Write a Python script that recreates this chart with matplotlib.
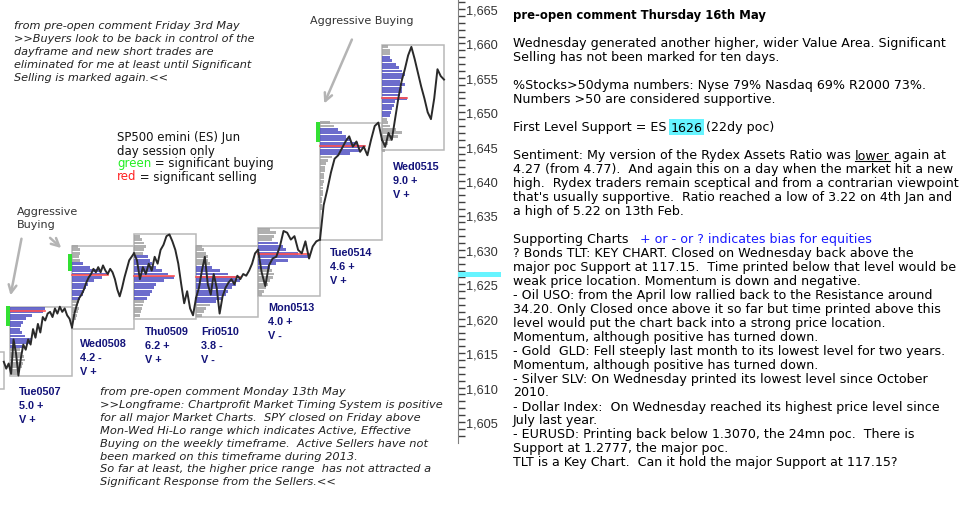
import numpy as np
import matplotlib.pyplot as plt
from matplotlib.patches import Rectangle
from matplotlib.ticker import FixedLocator, FuncFormatter
from matplotlib.lines import Line2D
import matplotlib.transforms as mtransforms

W, H = 965, 510

# ---- data ----
days = ['Tue0507', 'Wed0508', 'Thu0509', 'Fri0510', 'Mon0513', 'Tue0514', 'Wed0515']
day_num = ['5.0 +', '4.2 -', '6.2 +', '3.8 -', '4.0 +', '4.6 +', '9.0 +']
day_vol = ['V +', 'V +', 'V +', 'V -', 'V -', 'V +', 'V +']

# intraday price, one list per session
p_tue07 = [1613.75, 1612.75, 1613.5, 1612.0, 1617.0, 1615.0, 1611.75, 1614.25, 1616.25, 1615.5,
           1617.0, 1616.25, 1618.5, 1617.25, 1619.25, 1618.0, 1620.25, 1619.75, 1620.75, 1621.0,
           1620.25, 1621.5, 1620.75, 1621.75, 1621.0, 1621.5, 1620.5, 1620.0, 1618.75]
p_wed08 = [1618.75, 1620.75, 1622.0, 1623.0, 1623.5, 1624.25, 1625.25, 1626.0, 1626.5, 1627.25,
           1626.75, 1627.5, 1626.75, 1627.75, 1627.0, 1626.5, 1627.25, 1626.75, 1625.75, 1624.25,
           1623.25, 1624.5, 1626.0, 1627.25, 1628.5, 1629.0, 1629.5]
p_thu09 = [1629.5, 1628.5, 1625.75, 1627.5, 1626.5, 1628.0, 1627.0, 1629.0, 1628.0, 1630.0,
           1630.75, 1632.0, 1632.25, 1631.25, 1630.0, 1628.0, 1625.0, 1622.25, 1624.0, 1621.5,
           1620.5, 1623.0]
p_fri10 = [1623.0, 1624.5, 1627.0, 1629.0, 1625.0, 1623.5, 1626.5, 1624.5, 1620.75, 1623.25,
           1624.5, 1625.25, 1625.75, 1625.0, 1626.25, 1625.75, 1626.5, 1626.25, 1627.0, 1628.0,
           1629.5, 1630.0]
p_mon13 = [1630.0, 1626.75, 1624.75, 1627.75, 1628.75, 1629.0, 1630.5, 1632.75, 1632.5, 1631.5,
           1632.0, 1630.0, 1629.5, 1631.25, 1628.75, 1630.5, 1631.25, 1631.5]
p_tue14 = [1631.5, 1636.5, 1638.75, 1641.25, 1643.25, 1643.75, 1644.75, 1645.75, 1646.5, 1645.0,
           1645.75, 1644.25, 1645.0, 1643.75, 1646.0, 1648.0, 1648.5, 1646.0]
p_wed15 = [1646.0, 1645.0, 1647.0, 1646.0, 1649.0, 1652.0, 1654.5, 1656.25, 1658.25, 1659.5,
           1657.75, 1655.75, 1653.75, 1652.0, 1650.0, 1649.0, 1652.0, 1656.25, 1655.25, 1654.75]
prices = [p_tue07, p_wed08, p_thu09, p_fri10, p_mon13, p_tue14, p_wed15]
start_off = [-0.1, 0, 0, 0, 0, 0, 0]

# session range boxes
box_hi = [1621.75, 1630.5, 1632.25, 1630.5, 1633.25, 1648.5, 1659.75]
box_lo = [1611.75, 1618.5, 1620.0, 1620.25, 1623.25, 1631.5, 1644.5]

# volume profiles: top row price, row lengths (0.5 pt rows), value area
prof_top = [1621.5, 1630.5, 1632.0, 1630.5, 1633.0, 1648.5, 1659.5]
prof_w = [
    [35, 33, 22, 16, 13, 11, 10, 12, 15, 22, 20, 12, 10, 12, 14, 15, 13, 12, 10, 8],
    [6, 8, 8, 7, 8, 11, 18, 28, 36, 30, 22, 16, 14, 12, 11, 8, 7, 6, 7, 6, 5, 4],
    [6, 8, 10, 12, 10, 9, 14, 16, 18, 22, 28, 34, 40, 30, 22, 20, 18, 16, 13, 10, 9, 8, 7, 6],
    [6, 8, 10, 12, 12, 14, 16, 24, 32, 40, 44, 40, 36, 32, 30, 26, 20, 14, 10, 8, 6],
    [12, 18, 16, 14, 20, 25, 28, 40, 50, 30, 18, 12, 14, 16, 15, 12, 10, 8, 6, 4],
    [10, 14, 18, 22, 26, 30, 38, 45, 40, 30, 12, 8, 6, 5, 5, 4, 4, 4, 3, 3, 3, 3, 2, 2, 2, 2],
    [6, 8, 8, 8, 10, 14, 17, 20, 23, 20, 18, 23, 20, 20, 18, 25, 13, 12, 10, 9, 8, 5, 6, 8,
     14, 20, 16, 10, 6, 4, 3],
]
va_hi = [1621.5, 1628.0, 1629.0, 1627.5, 1631.0, 1647.5, 1658.0]
va_lo = [1616.0, 1623.0, 1623.0, 1622.5, 1627.5, 1644.0, 1649.5]
poc = [1621.1, 1626.35, 1626.2, 1626.1, 1629.4, 1645.1, 1652.1]
poc_len = [35, 36, 40, 44, 51, 45, 25]

# significant buying marks
buy_day = [0, 1, 5]
buy_hi = [1621.9, 1629.4, 1648.6]
buy_lo = [1618.9, 1626.9, 1645.7]

support = 1626

# ---- figure ----
fig = plt.figure(figsize=(9.65, 5.1), dpi=100)
ax = fig.add_axes([0, 0, 458 / W, 1])
day_px = 62.0
ax.set_xlim(-10 / day_px, 448 / day_px)
ppp = (423 - 10) / 60.0
ax.set_ylim(1665 - (H - 10) / ppp, 1665 + 10 / ppp)

unit = 1 / day_px
blue, grey = '#5252c4', '#a3a3a3'

# previous session box edge
ax.add_patch(Rectangle((-0.6, 1609.8), 0.5, 5.4, fill=False, ec='#b8b8b8', lw=1.1))

for d in range(len(days)):
    ax.add_patch(Rectangle((d, box_lo[d]), 1, box_hi[d] - box_lo[d], fill=False,
                           ec='#b8b8b8', lw=1.1, zorder=1))
    rows = prof_top[d] - 0.5 * np.arange(len(prof_w[d]))
    w = np.array(prof_w[d]) * unit
    inva = (rows <= va_hi[d]) & (rows >= va_lo[d])
    cols = [blue if v else grey for v in inva]
    ax.barh(rows, w, left=d, height=0.42, color=cols, alpha=0.85, lw=0, zorder=2)
    ax.plot([d, d + poc_len[d] * unit], [poc[d], poc[d]], color='#ff5050', lw=1.2, zorder=3)
    xs = np.linspace(d + start_off[d], d + 1, len(prices[d]))
    ax.plot(xs, prices[d], color='#2a2a2a', lw=1.4, zorder=4)

for i, d in enumerate(buy_day):
    ax.add_patch(Rectangle((d - 0.07, buy_lo[i]), 0.065, buy_hi[i] - buy_lo[i],
                           color='#33e033', lw=0, zorder=5))

# axis on the right
for s in ['left', 'top', 'bottom']:
    ax.spines[s].set_visible(False)
ax.spines['right'].set_color('#808080')
ax.spines['right'].set_bounds(1602, ax.get_ylim()[1])
ax.set_xticks([])
ax.yaxis.tick_right()
ax.yaxis.set_major_locator(FixedLocator(np.arange(1605, 1666, 5)))
ax.yaxis.set_minor_locator(FixedLocator(np.arange(1603, 1667)))
ax.yaxis.set_major_formatter(FuncFormatter(lambda v, _: f'{v:,.0f}'))
ax.tick_params(axis='y', which='both', length=5, width=1, color='#404040', pad=0.5,
               labelsize=9.2, labelcolor='#333333', direction='out')
for lab in ax.get_yticklabels():
    lab.set_family('Liberation Sans')
ax.set_facecolor('none')

# support highlight on the axis
tr = mtransforms.blended_transform_factory(ax.transAxes, ax.transData)
ax.add_patch(Rectangle((1.0, support + 0.1), 43 / 458, 0.7, transform=tr, clip_on=False,
                       color='#66f4ff', lw=0, zorder=6))

# arrows towards the buying marks
arrow = dict(arrowstyle='->', color='#b4b4b4', lw=1.8, mutation_scale=14)
ax.annotate('', xy=(0.0, 1623.0), xytext=(22 / W, 1 - 237 / H), textcoords='figure fraction',
            arrowprops=arrow)
ax.annotate('', xy=(0.86, 1630.0), xytext=(48 / W, 1 - 237 / H), textcoords='figure fraction',
            arrowprops=arrow)
ax.annotate('', xy=(5.05, 1650.9), xytext=(353 / W, 1 - 38 / H), textcoords='figure fraction',
            arrowprops=arrow)

# day labels
lab_xy = [(19, 392), (80, 344), (145, 332), (201, 332), (268, 308), (330, 253), (393, 167)]
for i, (x, y) in enumerate(lab_xy):
    for k, s in enumerate([days[i], day_num[i], day_vol[i]]):
        fig.text(x / W, 1 - (y + 14 * k) / H, s, fontsize=7.8, fontweight='bold',
                 family='Liberation Sans', color='#13137a', va='center')

rend = fig.canvas.get_renderer()


def line(x, y, parts, size=9.05, **kw):
    cx = x
    out = []
    for s, st in parts:
        opts = dict(kw)
        opts.update(st)
        t = fig.text(cx / W, 1 - y / H, s, fontsize=size, va='center', ha='left', **opts)
        cx += t.get_window_extent(rend).width
        out.append(t)
    return out


def txt(x, y, s, size=9.05, **kw):
    return line(x, y, [(s, {})], size, **kw)[0]


# left side comments
top_note = ['from pre-open comment Friday 3rd May',
            '>>Buyers look to be back in control of the',
            'dayframe and new short trades are',
            'eliminated for me at least until Significant',
            'Selling is marked again.<<']
for k, s in enumerate(top_note):
    txt(14, 26 + 13 * k, s, 8.1, style='italic', color='#222222')

bot_note = ['from pre-open comment Monday 13th May',
            '>>Longframe: Chartprofit Market Timing System is positive',
            'for all major Market Charts.  SPY closed on Friday above',
            'Mon-Wed Hi-Lo range which indicates Active, Effective',
            'Buying on the weekly timeframe.  Active Sellers have not',
            'been marked on this timeframe during 2013.',
            'So far at least, the higher price range  has not attracted a',
            'Significant Response from the Sellers.<<']
for k, s in enumerate(bot_note):
    txt(100, 392 + 12.9 * k, s, 8.2, style='italic', color='#222222')

txt(117, 138, 'SP500 emini (ES) Jun', 8.45, color='#111111')
txt(117, 151, 'day session only', 8.45, color='#111111')
line(117, 164, [('green', {'color': '#22ee22'}), (' = significant buying', {})], 8.45, color='#111111')
line(117, 177, [('red', {'color': '#ff2020'}), (' = significant selling', {})], 8.45, color='#111111')

txt(310, 21, 'Aggressive Buying', 8, color='#333333')
txt(17, 212, 'Aggressive', 8, color='#333333')
txt(17, 225, 'Buying', 8, color='#333333')

# right panel comment
X0 = 513
txt(X0, 16, 'pre-open comment Thursday 16th May', 8.4, fontweight='bold', color='black')
simple = [
    (43, 'Wednesday generated another higher, wider Value Area. Significant'),
    (57, 'Selling has not been marked for ten days.'),
    (86, '%Stocks>50dyma numbers: Nyse 79% Nasdaq 69% R2000 73%.'),
    (99, 'Numbers >50 are considered supportive.'),
    (170, '4.27 (from 4.77).  And again this on a day when the market hit a new'),
    (184, 'high.  Rydex traders remain sceptical and from a contrarian viewpoint'),
    (198, "that's usually supportive.  Ratio reached a low of 3.22 on 4th Jan and"),
    (212, 'a high of 5.22 on 13th Feb.'),
    (254, '? Bonds TLT: KEY CHART. Closed on Wednesday back above the'),
    (268, 'major poc Support at 117.15.  Time printed below that level would be'),
    (282, 'weak price location. Momentum is down and negative.'),
    (296, '- Oil USO: from the April low rallied back to the Resistance around'),
    (310, '34.20. Only Closed once above it so far but time printed above this'),
    (324, 'level would put the chart back into a strong price location.'),
    (338, 'Momentum, although positive has turned down.'),
    (352, '- Gold  GLD: Fell steeply last month to its lowest level for two years.'),
    (366, 'Momentum, although positive has turned down.'),
    (379, '- Silver SLV: On Wednesday printed its lowest level since October'),
    (393, '2010.'),
    (407, '- Dollar Index:  On Wednesday reached its highest price level since'),
    (421, 'July last year.'),
    (435, '- EURUSD: Printing back below 1.3070, the 24mn poc.  There is'),
    (449, 'Support at 1.2777, the major poc.'),
    (463, 'TLT is a Key Chart.  Can it hold the major Support at 117.15?'),
]
for y, s in simple:
    txt(X0, y, s, color='black')

line(X0, 128, [('First Level Support = ES ', {}),
               ('1626', {'bbox': dict(boxstyle='square,pad=0.15', fc='#66f4ff', ec='none')}),
               (' (22dy poc)', {})], color='black')
parts = line(X0, 156, [('Sentiment: My version of the Rydex Assets Ratio was ', {}),
                       ('lower', {}), (' again at', {})], color='black')
bb = parts[1].get_window_extent(rend)
fig.add_artist(Line2D([bb.x0 / W, bb.x1 / W], [(bb.y0 + 1) / H, (bb.y0 + 1) / H],
                      color='black', lw=0.8))
line(X0, 240, [('Supporting Charts   ', {}),
               ('+ or - or ? indicates bias for equities', {'color': '#1a1aff'})], color='black')

fig.savefig('out.png', dpi=100)
